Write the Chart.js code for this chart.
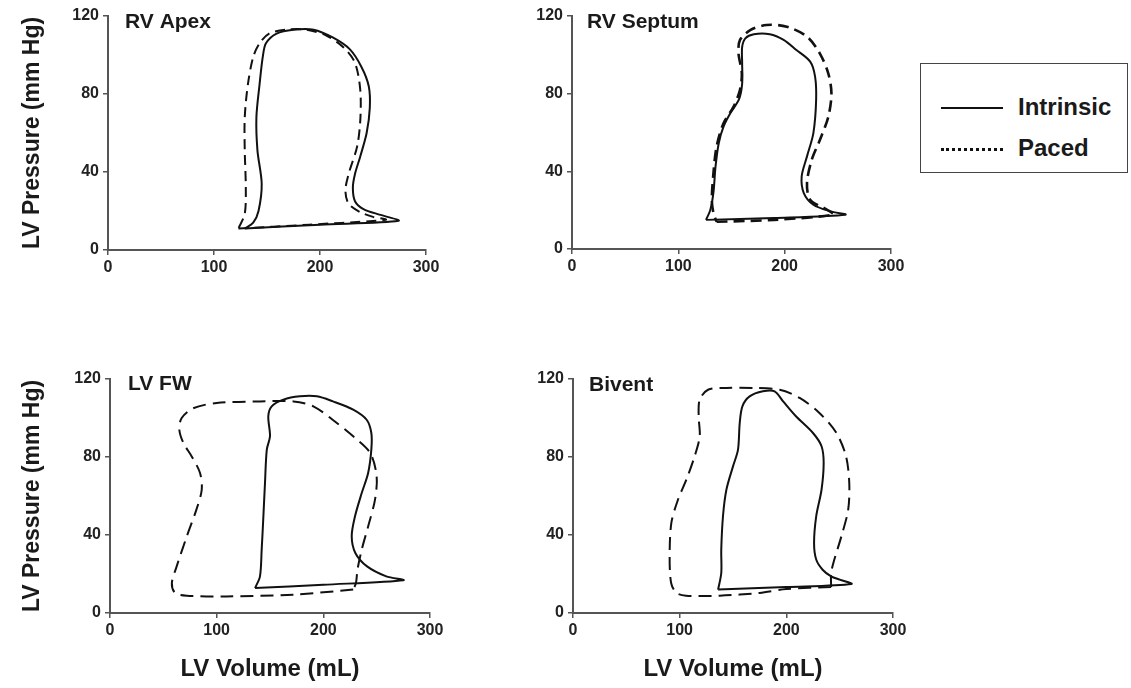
<!DOCTYPE html>
<html>
<head>
<meta charset="utf-8">
<script src="https://cdn.jsdelivr.net/npm/chart.js@4"></script>
<style>
  body { margin: 0; background: #fff; width: 1131px; height: 688px; position: relative; overflow: hidden; font-family: "Liberation Sans", Arial, sans-serif; }
  canvas { position: absolute; }
  #legend { position: absolute; left: 920px; top: 63px; width: 206px; height: 108px; border: 1.5px solid #444; }
  .swatch { position: absolute; left: 20px; width: 62px; }
  .label { position: absolute; left: 97px; font-weight: bold; font-size: 24px; color: #1a1a1a; line-height: 26px; }
</style>
</head>
<body>
<canvas id="c1" width="460" height="300" style="left:0;top:0"></canvas>
<canvas id="c2" width="450" height="300" style="left:460px;top:0"></canvas>
<canvas id="c3" width="460" height="388" style="left:0;top:300px"></canvas>
<canvas id="c4" width="450" height="388" style="left:460px;top:300px"></canvas>
<div id="legend">
  <div class="swatch" style="top:43px;border-top:2.5px solid #111"></div>
  <div class="label" style="top:30px">Intrinsic</div>
  <div class="swatch" style="top:84px;border-top:3px dotted #111"></div>
  <div class="label" style="top:71px">Paced</div>
</div>
<script>
// tick labels
var xTicks = [0, 100, 200, 300];
var yTicks = [0, 40, 80, 120];
var panelNames = ['RV Apex', 'RV Septum', 'LV FW', 'Bivent'];
var seriesNames = ['Intrinsic', 'Paced'];

// RV Apex loops (volume mL, pressure mm Hg)
var apexIntrinsicVol = [129, 200, 274, 257, 241, 233, 231, 233, 238, 244, 247, 246, 239, 228, 212, 194, 175, 159, 149, 146, 143, 140, 141, 145, 142, 137, 129];
var apexIntrinsicPres = [11, 13, 15, 18, 21, 25, 32, 39, 48, 60, 73, 84, 94, 103, 109, 113, 113, 111, 106, 99, 85, 68, 51, 34, 20, 14, 11];
var apexPacedVol = [123, 190, 262, 250, 238, 227, 224, 227, 235, 238, 238, 233, 222, 206, 187, 168, 152, 143, 137, 132, 129, 129, 130, 129, 123];
var apexPacedPres = [11, 13, 15.5, 17, 19.4, 23.7, 30.5, 39, 53, 66.5, 82, 96, 104, 110, 113, 113, 111, 106, 99, 85, 68, 51, 32, 18.5, 11];

// RV Septum loops
var septIntrinsicVol = [126, 190, 257, 243, 227, 218, 216, 221, 227, 229.6, 228.6, 224, 211, 199, 186, 171, 163, 160, 160, 160, 157, 149, 142.5, 138, 135, 133, 130, 126];
var septIntrinsicPres = [15, 16, 17.7, 19.4, 22.8, 28.8, 37.4, 47.7, 59.7, 76.8, 88.8, 96.5, 102.5, 107.7, 110.6, 110.6, 108.5, 104, 96, 85, 77, 70, 63, 54.5, 42.5, 29, 20, 15];
var septPacedVol = [136, 190, 246, 240, 224, 221, 225.5, 233, 241, 244, 241, 233, 221, 202, 183, 168, 158, 156.6, 159.7, 158, 152, 142.5, 136, 133, 131.5, 133, 136];
var septPacedPres = [14, 15, 17.7, 20.2, 25.4, 34, 46, 56, 68, 80, 90.5, 100.8, 109.4, 114.5, 115.4, 112.8, 107.7, 100.8, 90.5, 82, 73.4, 64.8, 52.8, 39, 25.4, 18.5, 14];

// LV FW loops
var fwIntrinsicVol = [136, 200, 275, 259, 241, 230, 226.6, 229.7, 236, 242, 245, 245, 240.6, 228, 209, 194, 178, 162.5, 151.6, 148.4, 150, 147, 145.3, 143.8, 142.2, 140.6, 136];
var fwIntrinsicPres = [12.8, 14.5, 16.8, 18.8, 23.9, 30.8, 39.3, 49.6, 61.5, 71.8, 83.8, 92.3, 99.1, 104.3, 108.5, 111.1, 111.1, 109.4, 106, 100.9, 90.6, 83.8, 66.7, 49.6, 32.5, 18.8, 12.8];
var fwPacedVol = [228, 172, 109, 72, 61, 58, 62.5, 72, 81, 86, 84.4, 76.6, 68.8, 65, 67.2, 78, 100, 140.6, 172, 190.6, 209, 228, 244, 250, 248.4, 242, 236, 232, 230.6, 228];
var fwPacedPres = [12, 9.4, 8.5, 8.9, 10.3, 15.4, 23.9, 39.3, 53, 63.2, 71.8, 80.3, 87.2, 94, 100, 105, 107.7, 108.5, 108.5, 106, 99, 90.6, 82, 70, 58, 44.4, 32.5, 22.2, 15.4, 12];

// Bivent loops
var bivIntrinsicVol = [136, 200, 261, 250, 242, 234, 228, 226, 228, 233, 235, 233, 225, 209, 197, 189, 178, 165.6, 158.8, 156.3, 154.7, 150, 143.8, 140.6, 139, 139, 136];
var bivIntrinsicPres = [12, 13.3, 14.9, 17.1, 18.8, 22.2, 27.4, 35.9, 49.6, 63.2, 76.9, 85.5, 92.3, 100.9, 108.5, 113.7, 113.7, 111.1, 106, 97.4, 83.8, 75.2, 63.2, 49.6, 32.5, 20.5, 12];
var bivPacedVol = [242, 200, 175, 137.5, 106, 97, 92, 90.6, 92.2, 98.4, 106.3, 114, 118.8, 117.8, 118.8, 126.6, 143.8, 168.8, 193.8, 212.5, 231, 247, 256, 259, 258, 251.6, 245, 242, 242];
var bivPacedPres = [13.3, 12.3, 10.3, 8.9, 8.9, 10.3, 15.4, 29.1, 46.2, 58.1, 68.4, 80.3, 90.6, 100.9, 109.4, 114.5, 115.4, 115.4, 114.5, 110.3, 102.6, 92.3, 80.3, 66.7, 53, 39.3, 27.4, 20.5, 13.3];

Chart.defaults.font.family = '"Liberation Sans", Arial, sans-serif';
Chart.defaults.color = '#1a1a1a';

function pts(vol, pres) {
  return vol.map(function (v, i) { return { x: v, y: pres[i] }; });
}

// draws the panel name inside the plot, top left
var panelLabel = {
  id: 'panelLabel',
  afterDraw: function (chart, args, o) {
    var ctx = chart.ctx;
    ctx.save();
    ctx.font = 'bold 21px "Liberation Sans", Arial, sans-serif';
    ctx.fillStyle = '#1a1a1a';
    ctx.textBaseline = 'alphabetic';
    ctx.fillText(o.text, chart.chartArea.left + o.dx, o.y);
    ctx.restore();
  }
};

function makePanel(id, p) {
  var tickFont = { size: 16, weight: 'bold' };
  new Chart(document.getElementById(id), {
    type: 'scatter',
    data: {
      datasets: [
        {
          label: seriesNames[0],
          data: pts(p.intrinsic[0], p.intrinsic[1]),
          showLine: true,
          borderColor: '#111',
          borderWidth: 2,
          tension: 0.3,
          pointRadius: 0
        },
        {
          label: seriesNames[1],
          data: pts(p.paced[0], p.paced[1]),
          showLine: true,
          borderColor: '#111',
          borderWidth: p.dashWidth || 2,
          borderDash: p.dash || [10, 6],
          tension: 0.3,
          pointRadius: 0
        }
      ]
    },
    options: {
      responsive: false,
      animation: false,
      events: [],
      layout: { padding: p.padding },
      plugins: {
        legend: { display: false },
        tooltip: { enabled: false },
        panelLabel: { text: p.name, dx: p.labelDx, y: p.labelY }
      },
      scales: {
        x: {
          type: 'linear',
          min: 0,
          max: 300,
          afterBuildTicks: function (s) { s.ticks = xTicks.map(function (v) { return { value: v }; }); },
          afterFit: function (s) { s.height = p.xHeight; },
          ticks: { font: tickFont, padding: 3, maxRotation: 0, color: '#222' },
          grid: { drawOnChartArea: false, tickLength: 5, color: '#555', lineWidth: 1.5 },
          border: { color: '#555', width: 2 },
          title: {
            display: p.xTitle,
            text: 'LV Volume (mL)',
            font: { size: 24, weight: 'bold' },
            padding: { top: 0, bottom: 4 }
          }
        },
        y: {
          type: 'linear',
          min: 0,
          max: 120,
          afterBuildTicks: function (s) { s.ticks = yTicks.map(function (v) { return { value: v }; }); },
          afterFit: function (s) { s.width = p.yWidth; },
          ticks: { font: tickFont, padding: 4, color: '#222' },
          grid: { drawOnChartArea: false, tickLength: 5, color: '#555', lineWidth: 1.5 },
          border: { color: '#555', width: 2 },
          title: {
            display: p.yTitle,
            text: 'LV Pressure (mm Hg)',
            font: { size: 23, weight: 'bold' },
            padding: { top: 19, bottom: 0 }
          }
        }
      }
    },
    plugins: [panelLabel]
  });
}

makePanel('c1', {
  name: panelNames[0], intrinsic: [apexIntrinsicVol, apexIntrinsicPres], paced: [apexPacedVol, apexPacedPres],
  padding: { left: 0, top: 16, right: 34, bottom: 0 }, yWidth: 108, xHeight: 50,
  yTitle: true, xTitle: false, labelDx: 17, labelY: 28
});
makePanel('c2', {
  name: panelNames[1], intrinsic: [septIntrinsicVol, septIntrinsicPres], paced: [septPacedVol, septPacedPres],
  padding: { left: 0, top: 16, right: 19, bottom: 0 }, yWidth: 112, xHeight: 51,
  yTitle: false, xTitle: false, labelDx: 15, labelY: 28, dashWidth: 2.6, dash: [11, 6]
});
makePanel('c3', {
  name: panelNames[2], intrinsic: [fwIntrinsicVol, fwIntrinsicPres], paced: [fwPacedVol, fwPacedPres],
  padding: { left: 0, top: 79, right: 30, bottom: 0 }, yWidth: 110, xHeight: 75,
  yTitle: true, xTitle: true, labelDx: 18, labelY: 90, dash: [13, 7]
});
makePanel('c4', {
  name: panelNames[3], intrinsic: [bivIntrinsicVol, bivIntrinsicPres], paced: [bivPacedVol, bivPacedPres],
  padding: { left: 0, top: 79, right: 17, bottom: 0 }, yWidth: 113, xHeight: 75,
  yTitle: false, xTitle: true, labelDx: 16, labelY: 91, dash: [13, 7]
});
</script>
</body>
</html>
